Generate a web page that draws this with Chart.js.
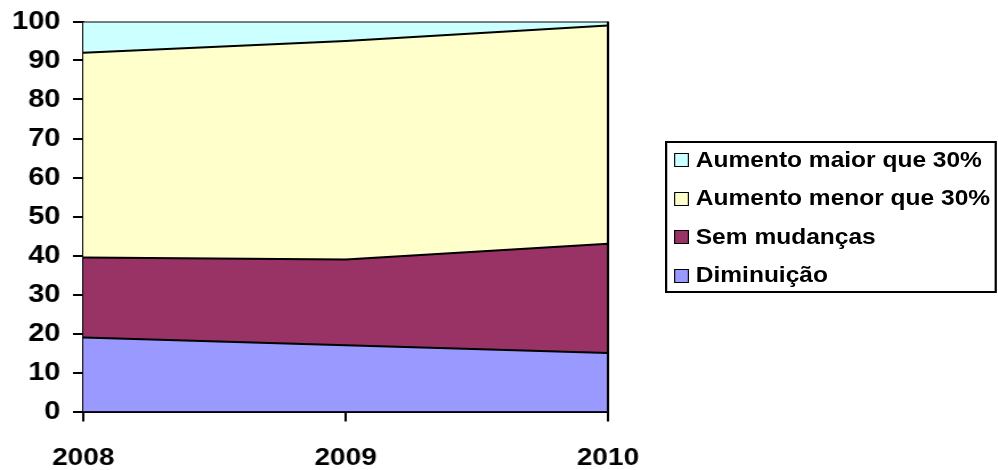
<!DOCTYPE html>
<html>
<head>
<meta charset="utf-8">
<script src="https://cdn.jsdelivr.net/npm/chart.js@4.4.0/dist/chart.umd.min.js"></script>
<style>
  body { margin: 0; background: #fff; }
  #wrap { position: relative; width: 875px; height: 470px; transform: scaleX(1.1406); transform-origin: 0 0; }
  #legend { position: absolute; left: 583px; top: 141px; width: 291px; height: 152px; box-sizing: border-box;
            border: 2px solid #000; font: bold 21.5px "Liberation Sans", Arial, sans-serif; color: #000; }
  .row { display: flex; align-items: center; height: 38.5px; }
  .row:first-child { margin-top: -2px; }
  .sw { width: 13px; height: 14px; box-sizing: border-box; border: 1.5px solid #000; margin-left: 6px; margin-right: 6px; }
</style>
</head>
<body>
<div id="wrap">
  <canvas id="chart" width="875" height="470"></canvas>
  <div id="legend"></div>
</div>
<script>
const years = ["2008", "2009", "2010"];
const diminuicao = [19, 17, 15];
const semMudancas = [20.5, 22, 28];
const aumentoMenor = [52.5, 56, 56];
const aumentoMaior = [8, 5, 1];
const seriesNames = ["Diminuição", "Sem mudanças", "Aumento menor que 30%", "Aumento maior que 30%"];
const seriesColors = ["#9999FF", "#993366", "#FFFFCC", "#CCFFFF"];
const yTicks = [0, 10, 20, 30, 40, 50, 60, 70, 80, 90, 100];

const allSeries = [diminuicao, semMudancas, aumentoMenor, aumentoMaior];
const font = "'Liberation Sans', Arial, sans-serif";

const rightEdge = {
  id: "rightEdge",
  afterDatasetsDraw(c) {
    const a = c.chartArea, ctx = c.ctx;
    ctx.save();
    ctx.strokeStyle = "#000";
    ctx.lineWidth = 2;
    ctx.beginPath();
    ctx.moveTo(a.right, a.top);
    ctx.lineTo(a.right, a.bottom);
    ctx.stroke();
    ctx.restore();
  }
};

const chart = new Chart("chart", {
  type: "line",
  data: {
    labels: years,
    datasets: allSeries.map((d, i) => ({
      label: seriesNames[i],
      data: d,
      backgroundColor: seriesColors[i],
      borderColor: "#000",
      borderWidth: 2,
      pointRadius: 0,
      tension: 0,
      fill: i === 0 ? "origin" : "-1",
    })),
  },
  options: {
    responsive: false,
    animation: false,
    layout: { padding: { top: 21.5, right: 342, left: 0, bottom: 0 } },
    plugins: { legend: { display: false }, tooltip: { enabled: false } },
    scales: {
      x: {
        offset: false,
        grid: { drawOnChartArea: false, drawTicks: true, tickLength: 10, color: "#000", lineWidth: 2 },
        border: { display: true, color: "#000", width: 2 },
        ticks: { color: "#000", font: { family: font, size: 24.5, weight: "bold" }, padding: 22, maxRotation: 0 },
        afterFit(s) { s.height = 58.5; },
      },
      y: {
        stacked: true,
        min: 0,
        max: 100,
        afterBuildTicks(s) { s.ticks = yTicks.map(v => ({ value: v })); },
        grid: { drawOnChartArea: false, drawTicks: true, tickLength: 9, color: "#000", lineWidth: 2 },
        border: { display: true, color: "#000", width: 2 },
        ticks: { color: "#000", font: { family: font, size: 25.5, weight: "bold" }, padding: 11 },
        afterFit(s) { s.width = 73; s.paddingTop = 0; s.paddingBottom = 0; },
      },
    },
  },
  plugins: [rightEdge],
});

// legend, top series first
const legend = document.getElementById("legend");
for (let i = seriesNames.length - 1; i >= 0; i--) {
  const row = document.createElement("div");
  row.className = "row";
  const sw = document.createElement("span");
  sw.className = "sw";
  sw.style.background = seriesColors[i];
  const txt = document.createElement("span");
  txt.textContent = seriesNames[i];
  row.appendChild(sw);
  row.appendChild(txt);
  legend.appendChild(row);
}
</script>
</body>
</html>
